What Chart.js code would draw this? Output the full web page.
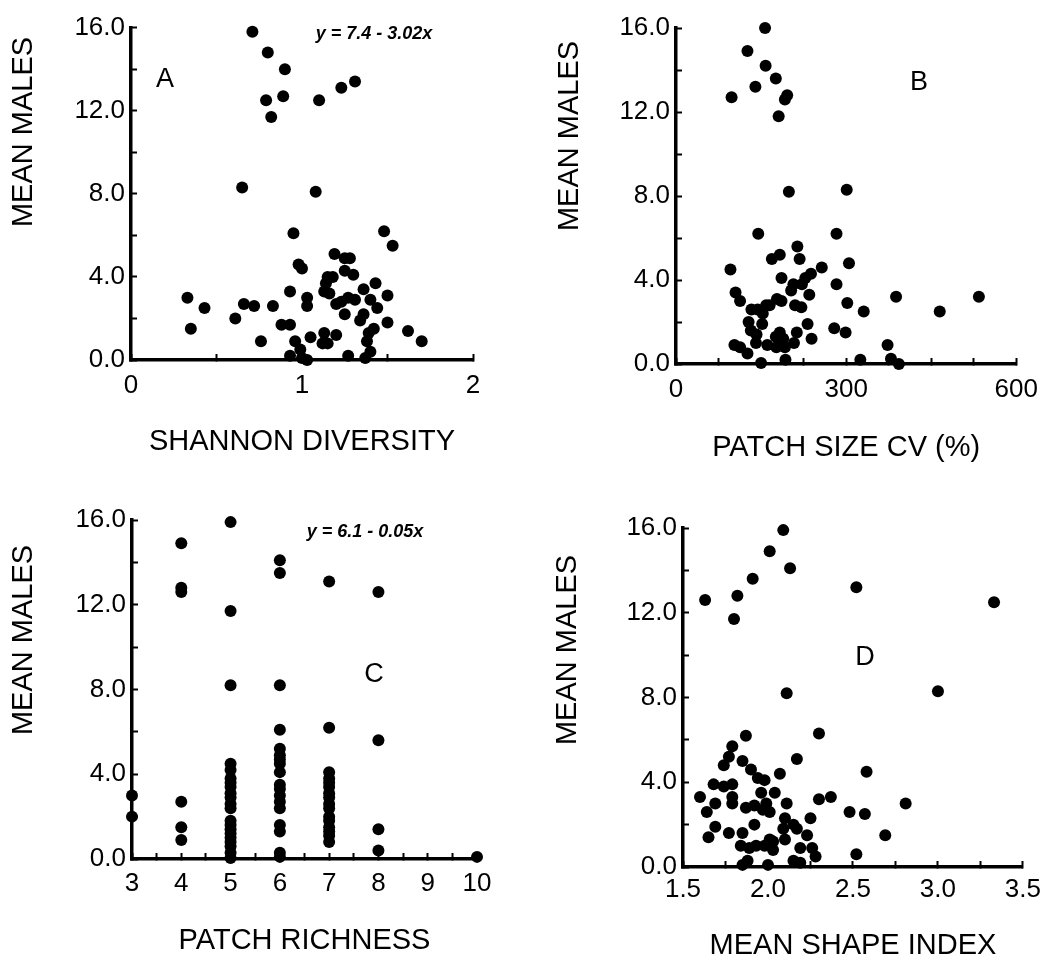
<!DOCTYPE html>
<html>
<head>
<meta charset="utf-8">
<title>Mean males vs landscape metrics</title>
<script src="https://cdn.jsdelivr.net/npm/chart.js@4.4.1/dist/chart.umd.min.js"></script>
<style>
  html, body { margin: 0; padding: 0; background: #fff; }
  #wrap { position: relative; width: 1054px; height: 960px; }
  canvas { position: absolute; }
</style>
</head>
<body>
<div id="wrap">
  <canvas id="chartA" width="527" height="480" style="left:0;top:0"></canvas>
  <canvas id="chartB" width="527" height="480" style="left:527px;top:0"></canvas>
  <canvas id="chartC" width="527" height="480" style="left:0;top:480px"></canvas>
  <canvas id="chartD" width="527" height="480" style="left:527px;top:480px"></canvas>
</div>
<script>
// Panel A - Shannon diversity
const shannonX = [0.71, 0.80, 0.90, 1.31, 1.23, 0.89, 0.79, 1.10, 0.82, 0.65, 1.08, 0.95, 1.48, 1.53, 1.19,
  1.25, 1.28, 0.98, 1.00, 1.25, 1.30, 1.15, 1.18, 1.14, 1.43, 1.36, 1.13, 1.16, 0.93, 1.50,
  0.33, 1.03, 1.27, 1.31, 1.40, 1.20, 1.23, 0.66, 0.72, 0.83, 1.03, 0.43, 1.44, 1.25, 1.36,
  1.34, 0.61, 0.88, 0.93, 1.50, 0.35, 1.42, 1.62, 1.13, 1.20, 1.39, 1.05, 1.15, 1.12, 1.38,
  0.76, 1.70, 0.96, 0.99, 1.40, 0.93, 1.27, 1.00, 1.03, 1.37];
const shannonY = [15.8, 14.8, 14.0, 13.4, 13.1, 12.7, 12.5, 12.5, 11.7, 8.3, 8.1, 6.1, 6.2, 5.5, 5.1,
  4.9, 4.9, 4.6, 4.4, 4.3, 4.1, 4.0, 4.0, 3.7, 3.7, 3.4, 3.3, 3.2, 3.3, 3.1,
  3.0, 3.0, 3.0, 2.9, 2.9, 2.7, 2.8, 2.7, 2.6, 2.6, 2.6, 2.5, 2.5, 2.2, 2.2,
  1.9, 2.0, 1.7, 1.7, 1.8, 1.5, 1.5, 1.4, 1.3, 1.2, 1.3, 1.1, 0.8, 0.8, 0.9,
  0.9, 0.9, 0.9, 0.5, 0.4, 0.2, 0.2, 0.1, 0.0, 0.1];

// Panel B - patch size CV (%)
const cvX = [157, 126, 158, 176, 140, 196, 192, 98, 181, 199, 301, 145, 283, 214, 169,
  183, 218, 96, 257, 305, 238, 186, 228, 207, 283, 222, 105, 235, 388, 534,
  203, 113, 178, 186, 165, 159, 302, 210, 221, 133, 144, 153, 331, 465, 128,
  152, 232, 132, 142, 183, 213, 279, 299, 239, 176, 189, 161, 141, 103, 113,
  177, 192, 208, 126, 373, 150, 193, 325, 379, 393];
const cvY = [16.0, 14.9, 14.2, 13.6, 13.2, 12.8, 12.6, 12.7, 11.8, 8.2, 8.3, 6.2, 6.2, 5.6, 5.0,
  5.2, 5.0, 4.5, 4.6, 4.8, 4.3, 4.1, 4.1, 3.8, 3.8, 3.8, 3.4, 3.3, 3.2, 3.2,
  3.5, 3.0, 3.1, 3.0, 2.8, 2.8, 2.9, 2.8, 2.7, 2.6, 2.6, 2.4, 2.5, 2.5, 2.0,
  1.9, 1.9, 1.6, 1.4, 1.5, 1.5, 1.7, 1.5, 1.2, 1.3, 1.2, 0.9, 1.0, 0.9, 0.8,
  0.8, 0.8, 1.0, 0.5, 0.9, 0.05, 0.2, 0.2, 0.25, 0.0];

// Panel C - patch richness
const richX = [3, 3,
  4, 4, 4, 4, 4, 4,
  5, 5, 5, 5, 5, 5, 5, 5, 5, 5, 5, 5, 5, 5, 5, 5, 5, 5, 5, 5, 5,
  6, 6, 6, 6, 6, 6, 6, 6, 6, 6, 6, 6, 6, 6, 6, 6, 6, 6,
  7, 7, 7, 7, 7, 7, 7, 7, 7, 7, 7, 7, 7, 7, 7, 7,
  8, 8, 8, 8,
  10];
const richY = [3.0, 2.0,
  14.9, 12.8, 12.6, 2.7, 1.5, 0.9,
  15.9, 11.7, 8.2, 4.5, 4.2, 3.8, 3.6, 3.4, 3.1, 2.9, 2.6, 2.4, 1.8, 1.6, 1.4, 1.2, 1.0, 0.8, 0.6, 0.3, 0.05,
  14.1, 13.5, 8.2, 6.1, 5.2, 4.9, 4.7, 4.5, 4.1, 3.5, 3.3, 3.0, 2.7, 2.4, 1.6, 1.3, 0.3, 0.1,
  13.1, 6.2, 4.1, 3.8, 3.6, 3.4, 3.1, 2.9, 2.6, 2.4, 2.0, 1.8, 1.5, 1.3, 1.1, 0.8,
  12.6, 5.6, 1.4, 0.4,
  0.1];

// Panel D - mean shape index
const shapeX = [2.09, 2.01, 2.13, 1.91, 2.52, 1.82, 1.63, 3.33, 1.80, 2.11, 3.00, 1.87, 2.30, 1.79, 1.77,
  1.74, 1.85, 2.17, 1.90, 2.58, 2.07, 1.94, 1.98, 1.68, 1.74, 1.79, 1.96, 2.04, 1.79, 1.60,
  2.37, 2.30, 1.79, 2.11, 1.69, 1.99, 2.81, 1.87, 1.92, 1.64, 1.97, 2.01, 2.48, 2.57, 2.10,
  2.25, 2.15, 1.92, 2.17, 1.69, 2.09, 1.85, 1.77, 2.23, 2.69, 1.65, 2.10, 2.01, 2.03, 1.84,
  1.89, 1.93, 1.98, 2.03, 2.19, 2.26, 2.28, 2.52, 1.88, 1.85, 2.15, 2.19, 2.00];
const shapeY = [15.9, 14.9, 14.1, 13.6, 13.2, 12.8, 12.6, 12.5, 11.7, 8.2, 8.3, 6.2, 6.3, 5.7, 5.2,
  4.8, 5.0, 5.1, 4.6, 4.5, 4.4, 4.2, 4.1, 3.9, 3.8, 3.9, 3.5, 3.5, 3.3, 3.3,
  3.3, 3.2, 3.0, 3.0, 3.0, 3.0, 3.0, 2.8, 2.9, 2.6, 2.7, 2.6, 2.6, 2.5, 2.3,
  2.3, 2.0, 2.0, 1.8, 1.9, 1.8, 1.6, 1.6, 1.5, 1.5, 1.4, 1.3, 1.3, 1.2, 1.0,
  0.9, 1.0, 1.0, 0.8, 0.9, 0.9, 0.5, 0.6, 0.3, 0.1, 0.3, 0.2, 0.1];

// tick labels
const yLabels = ['0.0', '4.0', '8.0', '12.0', '16.0'];
const shannonLabels = ['0', '1', '2'];
const cvLabels = ['0', '300', '600'];
const richLabels = ['3', '4', '5', '6', '7', '8', '9', '10'];
const shapeLabels = ['1.5', '2.0', '2.5', '3.0', '3.5'];

const FONT = '"Liberation Sans", Arial, Helvetica, sans-serif';

// only label the major ticks, minor ones keep their tick mark
function labelFor(list) {
  return function (v) {
    const hit = list.find(l => Math.abs(parseFloat(l) - v) < 1e-6);
    return hit !== undefined ? hit : '';
  };
}

// extra texts: y title, panel letter, regression equation
const panelText = {
  id: 'panelText',
  afterDraw(chart, args, o) {
    const ctx = chart.ctx;
    ctx.save();
    ctx.fillStyle = '#000';
    ctx.textAlign = 'center';
    ctx.textBaseline = 'middle';
    ctx.font = '29px ' + FONT;
    ctx.translate(o.yTitle[0], o.yTitle[1]);
    ctx.rotate(-Math.PI / 2);
    ctx.fillText('MEAN MALES', 0, 0);
    ctx.restore();

    ctx.save();
    ctx.fillStyle = '#000';
    ctx.textAlign = 'center';
    ctx.textBaseline = 'middle';
    ctx.font = '27px ' + FONT;
    ctx.fillText(o.letter, o.letterPos[0], o.letterPos[1]);
    if (o.eq) {
      ctx.font = 'italic bold 18px ' + FONT;
      ctx.textBaseline = 'alphabetic';
      ctx.fillText(o.eq, o.eqPos[0], o.eqPos[1]);
    }
    ctx.restore();
  }
};

function makePanel(id, xs, ys, p) {
  const pts = xs.map((x, i) => ({ x: x, y: ys[i] }));
  return new Chart(document.getElementById(id), {
    type: 'scatter',
    data: {
      datasets: [{
        data: pts,
        backgroundColor: '#000',
        borderWidth: 0,
        pointRadius: 6,
        pointHoverRadius: 6,
        clip: false
      }]
    },
    options: {
      responsive: false,
      animation: false,
      events: [],
      layout: { padding: { left: 0, top: p.top, right: p.right, bottom: 0 } },
      plugins: {
        legend: { display: false },
        tooltip: { enabled: false },
        panelText: p.text
      },
      scales: {
        x: {
          type: 'linear',
          min: p.xMin, max: p.xMax,
          afterFit: s => { s.height = p.xH; },
          border: { color: '#000', width: 3.5 },
          grid: { drawOnChartArea: false, tickLength: -6, tickWidth: 2, tickColor: '#000' },
          ticks: {
            stepSize: p.xStep, autoSkip: false, maxRotation: 0, padding: p.xPad,
            color: '#000', font: { family: FONT, size: 26 },
            callback: labelFor(p.xLabels)
          },
          title: {
            display: true, text: p.xTitle, color: '#000',
            font: { family: FONT, size: 29, lineHeight: 1 },
            padding: { top: 0, bottom: p.xTitlePad }
          }
        },
        y: {
          type: 'linear',
          min: 0, max: 16,
          afterFit: s => { s.width = p.yW; },
          border: { color: '#000', width: 3.5 },
          grid: { drawOnChartArea: false, tickLength: -6, tickWidth: 2, tickColor: '#000' },
          ticks: {
            stepSize: 2, autoSkip: false, padding: 12,
            color: '#000', font: { family: FONT, size: 26 },
            callback: labelFor(yLabels)
          }
        }
      }
    },
    plugins: [panelText]
  });
}

makePanel('chartA', shannonX, shannonY, {
  top: 21, right: 54, yW: 131, xH: 120, xPad: 16, xTitlePad: 24,
  xMin: 0, xMax: 2, xStep: 0.5, xLabels: shannonLabels, xTitle: 'SHANNON DIVERSITY',
  text: { yTitle: [24, 132], letter: 'A', letterPos: [165, 80], eq: 'y = 7.4 - 3.02x', eqPos: [374, 39] }
});

makePanel('chartB', cvX, cvY, {
  top: 28, right: 36, yW: 149, xH: 116, xPad: 16, xTitlePad: 18,
  xMin: 0, xMax: 600, xStep: 75, xLabels: cvLabels, xTitle: 'PATCH SIZE CV (%)',
  text: { yTitle: [43, 136], letter: 'B', letterPos: [392, 83] }
});

makePanel('chartC', richX, richY, {
  top: 40, right: 50, yW: 132, xH: 101, xPad: 15, xTitlePad: 5,
  xMin: 3, xMax: 10, xStep: 0.5, xLabels: richLabels, xTitle: 'PATCH RICHNESS',
  text: { yTitle: [24, 160], letter: 'C', letterPos: [374, 195], eq: 'y = 6.1 - 0.05x', eqPos: [365, 57] }
});

makePanel('chartD', shapeX, shapeY, {
  top: 48, right: 27, yW: 156, xH: 93, xPad: 13, xTitlePad: 0,
  xMin: 1.5, xMax: 3.5, xStep: 0.25, xLabels: shapeLabels, xTitle: 'MEAN SHAPE INDEX',
  text: { yTitle: [41, 170], letter: 'D', letterPos: [338, 178] }
});
</script>
</body>
</html>
